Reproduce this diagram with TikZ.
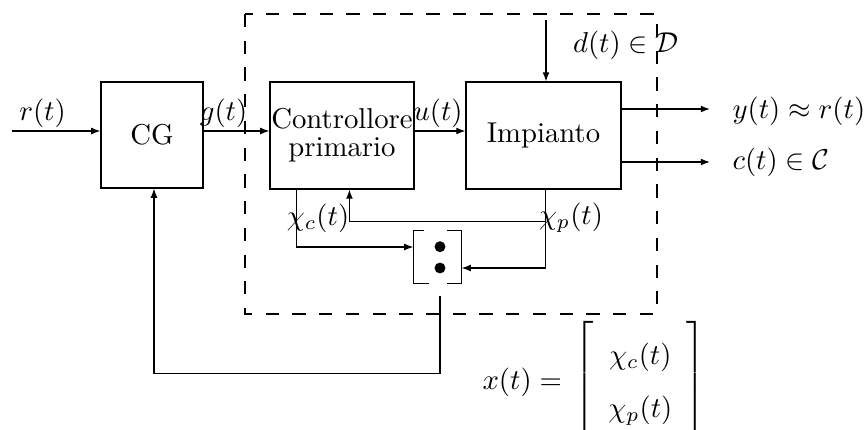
\documentclass[tikz,border=0pt]{standalone}
\usetikzlibrary{arrows.meta,calc}
\begin{document}
\begin{tikzpicture}[x=0.348pt,y=-0.348pt,
  blk/.style={draw,inner sep=0pt,line width=0.4pt},
  sig/.style={-{Latex[length=3.2pt,width=2.4pt]}},
  lab/.style={inner sep=0pt},
  dsh/.style={dash pattern=on 4.6pt off 4.7pt}]
\useasboundingbox (0,0) rectangle (867,429);
% dashed enclosure
\draw[dsh] (245,14) rectangle (657,314);
% blocks
\node[blk,minimum width=35.5pt,minimum height=36.9pt] (CG) at (152,135) {CG};
\node[blk,minimum width=50.1pt,minimum height=37.2pt,align=center] (C) at (342,135.5) {Controllore\\[-2.3pt]primario};
\node[blk,minimum width=53.9pt,minimum height=37.2pt] (P) at (543.5,135.5) {Impianto};
\node[inner sep=0pt,minimum width=16.4pt,minimum height=18.1pt] (M) at (437.5,257) {};
% mux
\draw (M.north west) ++(11,0) -- (M.north west) -- (M.south west) -- ++(16,0);
\draw (M.north east) ++(-15,0) -- (M.north east) -- (M.south east) -- ++(-15,0);
\fill ($(M.center)+(2.5,-10.3)$) circle (1.9pt);
\fill ($(M.center)+(2.5,11)$) circle (1.9pt);
% main signals
\coordinate (rin) at (12,131);
\draw[sig] (rin) -- (rin -| CG.west);
\draw[sig] (CG.east |- rin) -- (C.west |- rin);
\draw[sig] (C.east |- rin) -- (P.west |- rin);
\coordinate (dtop) at (546,20);
\draw[sig] (dtop) -- (dtop |- P.north);
\coordinate (yout) at (710,109);
\coordinate (cout) at (710,162);
\draw[sig] (P.east |- yout) -- (yout);
\draw[sig] (P.east |- cout) -- (cout);
% state signals
\draw[sig] ($(C.south west)+(27,0)$) |- ($(M.west)+(0,-10)$);
\draw[sig] ($(P.south west)+(80,0)$) |- ($(M.east)+(0,11)$);
\coordinate (fb) at ($(P.south west)+(80,32)$);
\draw[sig] (fb) -| ($(C.south west)+(80,0)$);
\coordinate (mo) at ($(M.south)+(2.5,12)$);
\draw[sig] (mo) -- ++(0,78) -| ($(CG.south)+(2,0)$);
% labels
\node[lab] (lr) at (42.5,113) {$r(t)$};
\node[lab] (lg) at (223.5,113) {$g(t)$};
\node[lab] (lu) at (438,113) {$u(t)$};
\node[lab] (ld) at (626,45) {$d(t)\in\mathcal{D}$};
\node[lab,anchor=west] (ly) at (732,111) {$y(t)\approx r(t)$};
\node[lab,anchor=west] (lc) at (732,162) {$c(t)\in\mathcal{C}$};
\node[lab] (lxc) at (318,218) {$\chi_c(t)$};
\node[lab] (lxp) at (571,218) {$\chi_p(t)$};
\node[lab,anchor=west] (xm) at (482,382) {$x(t)=\,\left[\vcenter{\hrule height 45pt width 0pt}\begin{array}{c}\rule{0pt}{9.6pt}\chi_c(t)\\[6.4pt]\chi_p(t)\end{array}\right]$};
\end{tikzpicture}
\end{document}
